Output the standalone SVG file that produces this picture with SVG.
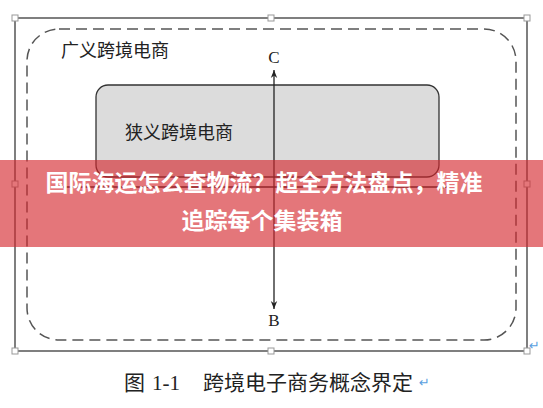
<svg xmlns="http://www.w3.org/2000/svg" width="543" height="408" viewBox="0 0 543 408">
<style>
.frame{fill:none;stroke:#555;stroke-width:1.5}
.handle{fill:#fff;stroke:#999;stroke-width:1}
.dash{fill:none;stroke:#555;stroke-width:1.5;stroke-dasharray:11,6}
.inner{fill:#dcdcdc;stroke:#333;stroke-width:1.3}
.cjk{font-family:"Noto Sans CJK SC","Noto Sans",sans-serif;fill:#222}
.lat{font-family:"Liberation Serif",serif;fill:#222}
.conn{stroke:#222;stroke-width:1.3;fill:none}
.ret{font-family:"DejaVu Sans",sans-serif;fill:#5aa0e0}
.banner-t{font-family:"Noto Sans CJK SC",sans-serif;font-weight:bold;fill:#fff;font-size:23px}
</style>
<defs>
<marker id="ah" viewBox="0 0 10 10" refX="10" refY="5" markerWidth="8" markerHeight="8" markerUnits="userSpaceOnUse" orient="auto">
<path d="M0,1 L10,5 L0,9 L3,5 Z" fill="#222"/>
</marker>
</defs>
<rect width="543" height="408" fill="#fff"/>
<g id="frame">
<rect class="frame" x="15" y="18" width="512" height="333"/>
<rect class="handle" x="12" y="15" width="6" height="6"/>
<rect class="handle" x="268" y="15" width="6" height="6"/>
<rect class="handle" x="524" y="15" width="6" height="6"/>
<rect class="handle" x="12" y="181" width="6" height="6"/>
<rect class="handle" x="524" y="181" width="6" height="6"/>
<rect class="handle" x="12" y="348" width="6" height="6"/>
<rect class="handle" x="268" y="348" width="6" height="6"/>
<rect class="handle" x="524" y="348" width="6" height="6"/>
</g>
<g id="broad">
<rect class="dash" x="27" y="29" width="489" height="311" rx="32" ry="32"/>
<text class="cjk" x="61" y="57" font-size="18">广义跨境电商</text>
</g>
<g id="narrow">
<rect class="inner" x="96" y="85" width="343" height="92" rx="12" ry="12"/>
<text class="cjk" x="125" y="139" font-size="18">狭义跨境电商</text>
</g>
<g id="connectors">
<line class="conn" x1="274" y1="189" x2="274" y2="70" marker-end="url(#ah)"/>
<line class="conn" x1="274" y1="189" x2="274" y2="309" marker-end="url(#ah)"/>
<line class="conn" x1="60" y1="187" x2="447" y2="187" marker-end="url(#ah)"/>
</g>
<g id="labelC"><text class="lat" x="274" y="63" font-size="17" text-anchor="middle">C</text></g>
<g id="labelB"><text class="lat" x="274" y="326" font-size="17" text-anchor="middle">B</text></g>
<text class="ret" x="529" y="350" font-size="13">↵</text>
<g id="caption">
<text class="cjk" x="124" y="390" font-size="21">图<tspan class="lat" dx="7">1-1</tspan><tspan class="cjk" dx="23">跨境电子商务概念界定</tspan></text>
<text class="ret" x="419" y="387" font-size="13">↵</text>
</g>
<g id="banner">
<rect x="0" y="160" width="543" height="87" fill="rgb(212,38,44)" fill-opacity="0.63"/>
<text class="banner-t" x="264" y="191" text-anchor="middle">国际海运怎么查物流？超全方法盘点，精准</text>
<text class="banner-t" x="262" y="229" text-anchor="middle">追踪每个集装箱</text>
</g>
</svg>
